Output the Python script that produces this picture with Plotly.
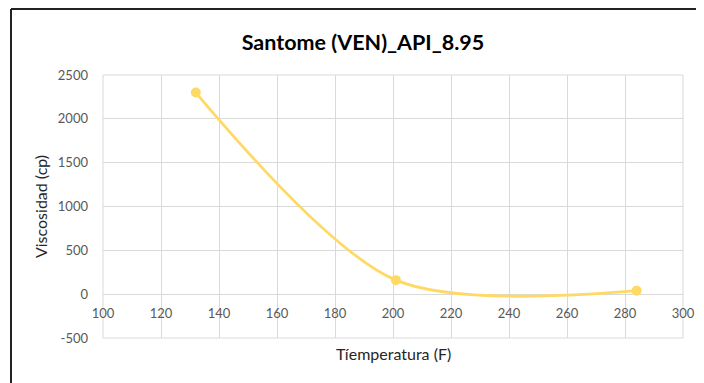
import plotly.graph_objects as go

# Data
temperatura_f = [132, 201, 284]
viscosidad_cp = [2300, 160, 40]

x_ticks = [100, 120, 140, 160, 180, 200, 220, 240, 260, 280, 300]
y_ticks = [-500, 0, 500, 1000, 1500, 2000, 2500]

title_text = "Santome (VEN)_API_8.95"
x_title = "Tíemperatura (F)"
y_title = "Viscosidad (cp)"

FONT = "Lato"
GOLD = "#FFD966"
GRID = "#D9D9D9"
TICKC = "#595959"

# page body has an 8px default margin, so the figure is 8px smaller
W, H = 696, 375
ML, MR, MT, MB = 95, 21, 67, 45
PW, PH = W - ML - MR, H - MT - MB

y_range = [-500, 2500]
zero_pos = (0 - y_range[0]) / (y_range[1] - y_range[0])

fig = go.Figure()
fig.add_trace(go.Scatter(
    x=temperatura_f, y=viscosidad_cp,
    mode="lines+markers",
    line=dict(color=GOLD, width=2.8, shape="spline", smoothing=0.85),
    marker=dict(color=GOLD, size=10),
    showlegend=False,
))

fig.update_layout(
    width=W, height=H,
    margin=dict(l=ML, r=MR, t=MT, b=MB, autoexpand=False),
    paper_bgcolor="white", plot_bgcolor="white",
    font=dict(family=FONT, color=TICKC, size=13),
    title=dict(text=f"<b>{title_text}</b>", x=355/W, xref="container", xanchor="center",
               y=1 - 34/H, yref="container", yanchor="middle",
               font=dict(family=FONT, size=21.5, color="#000000")),
    xaxis=dict(range=[100, 300], tickvals=x_ticks, ticktext=[str(v) for v in x_ticks],
               showgrid=True, gridcolor=GRID, gridwidth=1, zeroline=False,
               showline=False, ticks="", anchor="free", position=zero_pos,
               automargin=False,
               ticklabelstandoff=10, tickfont=dict(size=13, color=TICKC, family=FONT)),
    yaxis=dict(range=y_range, tickvals=y_ticks, ticktext=[str(v) for v in y_ticks],
               showgrid=True, gridcolor=GRID, gridwidth=1,
               zeroline=True, zerolinecolor=GRID, zerolinewidth=1,
               showline=False, ticks="", ticklabelstandoff=14, automargin=False,
               tickfont=dict(size=13, color=TICKC, family=FONT),
               title=dict(text=y_title, standoff=6,
                          font=dict(size=16, color="#262626", family=FONT))),
    shapes=[
        dict(type="rect", xref="paper", yref="paper", x0=0, x1=1, y0=0, y1=1,
             line=dict(color=GRID, width=1), fillcolor="rgba(0,0,0,0)", layer="below"),
        dict(type="line", xref="paper", yref="paper", x0=(3 - ML) / PW, x1=(W - ML) / PW,
             y0=1 + (MT - 1) / PH, y1=1 + (MT - 1) / PH, line=dict(color="#222222", width=2)),
        dict(type="line", xref="paper", yref="paper", x0=(3 - ML) / PW, x1=(3 - ML) / PW,
             y0=1 + (MT - 1) / PH, y1=-MB / PH, line=dict(color="#222222", width=2)),
    ],
    annotations=[
        dict(text=x_title, xref="paper", yref="paper", x=0.5, y=0, yshift=-15,
             xanchor="center", yanchor="middle", showarrow=False,
             font=dict(size=16, color="#262626", family=FONT)),
    ],
)

fig.write_html("out.html")
